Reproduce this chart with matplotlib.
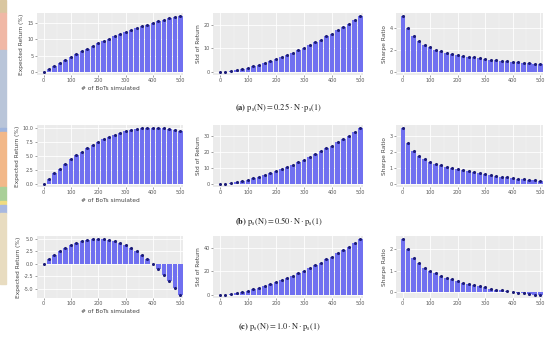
import matplotlib
matplotlib.use("Agg")
import matplotlib.pyplot as plt
from matplotlib.patches import Rectangle

plt.rcParams['font.family'] = ['DejaVu Sans']
plt.rcParams['mathtext.fontset'] = 'stix'

# ---------------- data ----------------
n_sim = [1, 20, 40, 60, 80, 100, 120, 140, 160, 180, 200, 220, 240, 260,
         280, 300, 320, 340, 360, 380, 400, 420, 440, 460, 480, 500]

ret_a = [0.05, 0.99, 1.95, 2.89, 3.80, 4.69, 5.55, 6.39, 7.20, 7.99, 8.75, 9.49, 10.20,
         10.89, 11.55, 12.19, 12.80, 13.39, 13.95, 14.49, 15.00, 15.49, 15.95, 16.39, 16.80, 17.19]
ret_b = [0.05, 0.98, 1.90, 2.78, 3.60, 4.38, 5.10, 5.78, 6.40, 6.98, 7.50, 7.98, 8.40,
         8.78, 9.10, 9.38, 9.60, 9.78, 9.90, 9.98, 10.00, 9.98, 9.90, 9.78, 9.60, 9.38]
ret_c = [0.05, 0.95, 1.80, 2.55, 3.20, 3.75, 4.20, 4.55, 4.80, 4.95, 5.00, 4.95, 4.80,
         4.55, 4.20, 3.75, 3.20, 2.55, 1.80, 0.95, 0.00, -1.05, -2.20, -3.45, -4.80, -6.25]

std_a = [0.01, 0.15, 0.45, 0.85, 1.3, 1.9, 2.5, 3.2, 3.9, 4.7, 5.5, 6.4, 7.3,
         8.3, 9.3, 10.4, 11.5, 12.6, 13.8, 15.1, 16.3, 17.7, 19.1, 20.5, 22.1, 23.8]
std_b = [0.015, 0.22, 0.65, 1.25, 1.9, 2.8, 3.7, 4.7, 5.7, 6.9, 8.1, 9.4, 10.7,
         12.2, 13.7, 15.3, 16.9, 18.5, 20.3, 22.2, 24.0, 26.0, 28.1, 30.1, 32.5, 35.0]
std_c = [0.02, 0.3, 0.9, 1.7, 2.6, 3.8, 5.0, 6.4, 7.8, 9.4, 11.0, 12.8, 14.6,
         16.6, 18.6, 20.8, 23.0, 25.2, 27.6, 30.2, 32.6, 35.4, 38.2, 41.0, 44.2, 47.6]

sharpe_a = [5.1, 4.0, 3.3, 2.85, 2.5, 2.25, 2.05, 1.9, 1.78, 1.66, 1.56, 1.47, 1.40,
            1.33, 1.26, 1.20, 1.14, 1.09, 1.04, 0.99, 0.94, 0.89, 0.85, 0.80, 0.76, 0.72]
sharpe_b = [3.5, 2.55, 2.05, 1.75, 1.55, 1.40, 1.28, 1.18, 1.09, 1.01, 0.94, 0.87, 0.80,
            0.74, 0.68, 0.62, 0.57, 0.52, 0.47, 0.43, 0.39, 0.35, 0.31, 0.27, 0.24, 0.21]
sharpe_c = [2.5, 2.0, 1.6, 1.35, 1.15, 1.0, 0.88, 0.78, 0.68, 0.60, 0.52, 0.45, 0.39,
            0.33, 0.27, 0.22, 0.17, 0.12, 0.08, 0.04, 0.0, -0.03, -0.06, -0.09, -0.12, -0.14]

x_ticks = [0, 100, 200, 300, 400, 500]
yticks_ret = [[0, 5, 10, 15], [0.0, 2.5, 5.0, 7.5, 10.0], [-5.0, -2.5, 0.0, 2.5, 5.0]]
yticks_std = [[0, 10, 20], [0, 10, 20, 30], [0, 20, 40]]
yticks_sh = [[0, 2, 4], [0, 1, 2, 3], [0, 1, 2]]
ret_fmt = ['{:.0f}', '{:.1f}', '{:.1f}']

captions = [r'$\mathbf{(a)}\ \mathrm{p_s(N) = 0.25 \cdot N \cdot p_s(1)}$',
            r'$\mathbf{(b)}\ \mathrm{p_s(N) = 0.50 \cdot N \cdot p_s(1)}$',
            r'$\mathbf{(c)}\ \mathrm{p_s(N) = 1.0 \cdot N \cdot p_s(1)}$']
ylabels = ['Expected Return (%)', 'Std of Return', 'Sharpe Ratio']
xlabel = '# of BoTs simulated'

rows = [[ret_a, std_a, sharpe_a], [ret_b, std_b, sharpe_b], [ret_c, std_c, sharpe_c]]
ytick_sets = [yticks_ret, yticks_std, yticks_sh]

# ---------------- layout ----------------
W, H = 557, 347
fig = plt.figure(figsize=(W / 100, H / 100), dpi=100)
fig.patch.set_facecolor('white')

row_y = [(13, 75), (125, 187), (236, 298)]
col_x = [(37, 183), (213, 363), (396, 543)]
caption_y = [107, 222, 327]

bar_color = '#7070f0'
dot_color = '#1c1c78'

for r, (y0, y1) in enumerate(row_y):
    for c, (x0, x1) in enumerate(col_x):
        ax = fig.add_axes([x0 / W, 1 - y1 / H, (x1 - x0) / W, (y1 - y0) / H])
        vals = rows[r][c]
        ax.set_facecolor('#ebebeb')
        ax.bar(n_sim, vals, width=16.5, color=bar_color, edgecolor='none', zorder=2)
        ax.scatter(n_sim, vals, s=5, color=dot_color, zorder=3, linewidths=0)
        ax.set_xlim(-24, 510)
        ax.set_xticks(x_ticks)
        ax.set_xticks([50, 150, 250, 350, 450], minor=True)
        ticks = ytick_sets[c][r]
        ax.set_yticks(ticks)
        if c == 0:
            ax.set_yticklabels([ret_fmt[r].format(t) for t in ticks])
        lo = min(min(vals), 0)
        hi = max(vals)
        pad = (hi - lo) * 0.05
        ax.set_ylim(lo - pad, hi + pad)
        ax.grid(True, which='major', color='white', linewidth=0.6, zorder=0)
        ax.grid(True, which='minor', axis='x', color='#f5f5f5', linewidth=0.3, zorder=0)
        ax.set_axisbelow(True)
        for s in ax.spines.values():
            s.set_visible(False)
        ax.tick_params(axis='both', which='major', labelsize=3.5, length=1.5,
                       width=0.4, color='#555555', labelcolor='#555555', pad=1)
        ax.tick_params(axis='both', which='minor', length=0)
        ax.set_ylabel(ylabels[c], fontsize=4.2, color='#444444', labelpad=2)
        if c == 0:
            ax.set_xlabel(xlabel, fontsize=4.2, color='#444444', labelpad=1.5)
    fig.text(279 / W, 1 - caption_y[r] / H, captions[r], ha='center', va='center',
             fontsize=6, color='#222222')

# coloured strip at the left edge of the screenshot
strip = [(0, 13, '#d9c6a0'), (13, 50, '#f0b8a6'), (50, 128, '#b9c5d9'),
         (128, 132, '#9fb4dc'), (132, 187, '#f2b889'), (187, 201, '#a9cf98'),
         (201, 205, '#f0dc80'), (205, 213, '#a8b8e0'), (213, 284, '#e8dcc0')]
for (ya, yb, col) in strip:
    fig.patches.append(Rectangle((0, 1 - yb / H), 6 / W, (yb - ya) / H,
                                 transform=fig.transFigure, color=col, zorder=0))

fig.savefig('out.png', dpi=100)
